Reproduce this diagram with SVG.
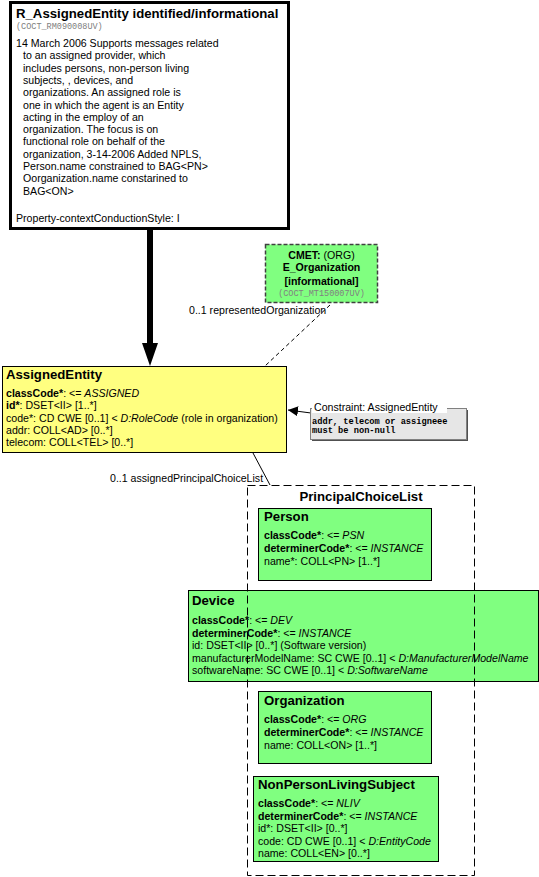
<svg xmlns="http://www.w3.org/2000/svg" width="539" height="877" viewBox="0 0 539 877">
<defs>
<style>
text{font-family:"Liberation Sans",Arial,sans-serif;font-size:10.6px;fill:#000}
.t{font-weight:bold;font-size:13.2px}
.ht{font-weight:bold;font-size:13.2px}
.b{font-weight:bold}
.i{font-style:italic}
.m{font-family:"Liberation Mono","Courier New",monospace;font-size:8.5px;fill:#808080}
.cm{font-family:"Liberation Mono","Courier New",monospace;font-size:8.7px;font-weight:bold;fill:#000}
.grn{fill:#80FF80;stroke:#000;stroke-width:1}
.conn{fill:none;stroke:#000;stroke-width:1}
</style>
<marker id="tri" viewBox="0 0 10 10" refX="10" refY="5" markerWidth="10" markerHeight="10" markerUnits="userSpaceOnUse" orient="auto">
<path d="M0,0 L10,5 L0,10 z" fill="#000"/>
</marker>
</defs>

<g id="R_AssignedEntity">
<rect x="10.5" y="2.5" width="278" height="226" fill="#fff" stroke="#000" stroke-width="3"/>
<text x="16" y="18" class="t">R_AssignedEntity identified/informational</text>
<text x="16" y="29" class="m">(COCT_RM090008UV)</text>
<text x="16" y="47">14 March 2006 Supports messages related</text>
<text x="23" y="59.3">to an assigned provider, which</text>
<text x="23" y="71.6">includes persons, non-person living</text>
<text x="23" y="83.9">subjects, , devices, and</text>
<text x="23" y="96.2">organizations. An assigned role is</text>
<text x="23" y="108.5">one in which the agent is an Entity</text>
<text x="23" y="120.8">acting in the employ of an</text>
<text x="23" y="133.1">organization. The focus is on</text>
<text x="23" y="145.4">functional role on behalf of the</text>
<text x="23" y="157.7">organization, 3-14-2006 Added NPLS,</text>
<text x="23" y="170">Person.name constrained to BAG&lt;PN&gt;</text>
<text x="23" y="182.3">Oorganization.name constarined to</text>
<text x="23" y="194.6">BAG&lt;ON&gt;</text>
<text x="16" y="222">Property-contextConductionStyle: I</text>
</g>

<g id="connectors">
<line x1="150" y1="229" x2="150" y2="345" stroke="#000" stroke-width="6"/>
<path d="M142,343 L158,343 L150,366 z" fill="#000"/>
<line x1="330" y1="305" x2="265" y2="366" stroke="#000" stroke-width="1" stroke-dasharray="4,3"/>
<text x="189" y="314">0..1 representedOrganization</text>
<line x1="311" y1="413" x2="288" y2="410" class="conn" marker-end="url(#tri)"/>
<line x1="253" y1="453" x2="270" y2="485" class="conn"/>
<text x="110" y="482">0..1 assignedPrincipalChoiceList</text>
</g>

<g id="E_Organization">
<rect x="265.5" y="244.5" width="112" height="58" fill="#80FF80" stroke="#404040" stroke-width="1.5" stroke-dasharray="4,2"/>
<text x="321.5" y="259" text-anchor="middle"><tspan class="b">CMET:</tspan> (ORG)</text>
<text x="321.5" y="271" text-anchor="middle" class="b">E_Organization</text>
<text x="321.5" y="285" text-anchor="middle" class="b">[informational]</text>
<text x="321.5" y="296" text-anchor="middle" class="m">(COCT_MT150007UV)</text>
</g>

<g id="AssignedEntity">
<rect x="2.5" y="366.5" width="284" height="86" fill="#FFFF80" stroke="#000" stroke-width="1"/>
<text x="6" y="379" class="ht">AssignedEntity</text>
<text x="6" y="397"><tspan class="b">classCode*</tspan>: &lt;= <tspan class="i">ASSIGNED</tspan></text>
<text x="6" y="409"><tspan class="b">id*</tspan>: DSET&lt;II&gt; [1..*]</text>
<text x="6" y="421.5">code*: CD CWE [0..1] &lt; <tspan class="i">D:RoleCode</tspan> (role in organization)</text>
<text x="6" y="434">addr: COLL&lt;AD&gt; [0..*]</text>
<text x="6" y="446">telecom: COLL&lt;TEL&gt; [0..*]</text>
</g>

<g id="Constraint">
<rect x="312" y="410" width="156" height="31" fill="#505050"/>
<rect x="310.5" y="408.5" width="156" height="31" fill="#E6E6E6" stroke="#808080" stroke-width="1"/>
<rect x="312" y="402" width="135" height="11" fill="#fff"/>
<text x="314" y="411">Constraint: AssignedEntity</text>
<text x="312" y="424" class="cm">addr, telecom or assigneee</text>
<text x="312" y="433" class="cm">must be non-null</text>
</g>

<g id="Person">
<rect x="258.5" y="508.5" width="173" height="72" class="grn"/>
<text x="264" y="521" class="ht">Person</text>
<text x="264" y="538.5"><tspan class="b">classCode*</tspan>: &lt;= <tspan class="i">PSN</tspan></text>
<text x="264" y="552"><tspan class="b">determinerCode*</tspan>: &lt;= <tspan class="i">INSTANCE</tspan></text>
<text x="264" y="565">name*: COLL&lt;PN&gt; [1..*]</text>
</g>

<g id="Device">
<rect x="188.5" y="590.5" width="350" height="91" class="grn"/>
<text x="192" y="605" class="ht">Device</text>
<text x="192" y="624"><tspan class="b">classCode*</tspan>: &lt;= <tspan class="i">DEV</tspan></text>
<text x="192" y="636.5"><tspan class="b">determinerCode*</tspan>: &lt;= <tspan class="i">INSTANCE</tspan></text>
<text x="192" y="649">id: DSET&lt;II&gt; [0..*] (Software version)</text>
<text x="192" y="661.5">manufacturerModelName: SC CWE [0..1] &lt; <tspan class="i">D:ManufacturerModelName</tspan></text>
<text x="192" y="674">softwareName: SC CWE [0..1] &lt; <tspan class="i">D:SoftwareName</tspan></text>
</g>

<g id="Organization">
<rect x="258.5" y="691.5" width="173" height="72" class="grn"/>
<text x="264" y="705" class="ht">Organization</text>
<text x="264" y="723"><tspan class="b">classCode*</tspan>: &lt;= <tspan class="i">ORG</tspan></text>
<text x="264" y="736"><tspan class="b">determinerCode*</tspan>: &lt;= <tspan class="i">INSTANCE</tspan></text>
<text x="264" y="749">name: COLL&lt;ON&gt; [1..*]</text>
</g>

<g id="NonPersonLivingSubject">
<rect x="253.5" y="776.5" width="185" height="85" class="grn"/>
<text x="258" y="789" class="ht">NonPersonLivingSubject</text>
<text x="258" y="807"><tspan class="b">classCode*</tspan>: &lt;= <tspan class="i">NLIV</tspan></text>
<text x="258" y="819.5"><tspan class="b">determinerCode*</tspan>: &lt;= <tspan class="i">INSTANCE</tspan></text>
<text x="258" y="832">id*: DSET&lt;II&gt; [0..*]</text>
<text x="258" y="844.5">code: CD CWE [0..1] &lt; <tspan class="i">D:EntityCode</tspan></text>
<text x="258" y="857">name: COLL&lt;EN&gt; [0..*]</text>
</g>

<g id="PrincipalChoiceList">
<rect x="247.5" y="485.5" width="227" height="390" fill="none" stroke="#000" stroke-width="1" stroke-dasharray="8,4"/>
<text x="361" y="501" text-anchor="middle" class="ht">PrincipalChoiceList</text>
</g>
</svg>
